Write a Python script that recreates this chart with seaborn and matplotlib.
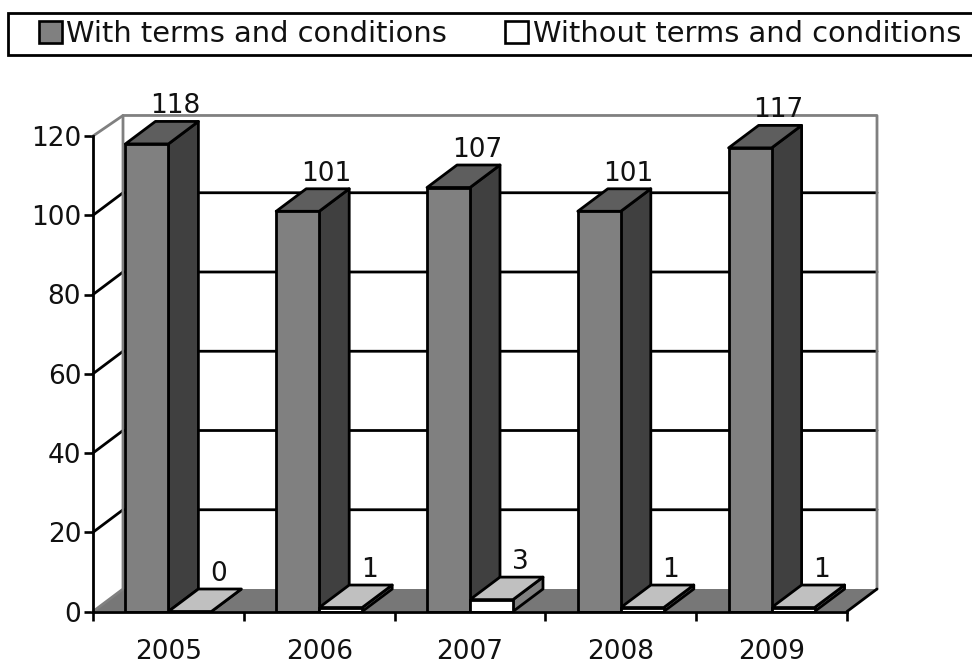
import matplotlib
matplotlib.use("Agg")
import matplotlib.pyplot as plt
from matplotlib.patches import Polygon, Rectangle
import pandas as pd
import seaborn as sns

years = ["2005", "2006", "2007", "2008", "2009"]
with_terms = [118, 101, 107, 101, 117]
without_terms = [0, 1, 3, 1, 1]
series_names = ["With terms and conditions", "Without terms and conditions"]
y_ticks = [0, 20, 40, 60, 80, 100, 120]

W, H = 972, 664
sns.set_theme(style="white")
plt.rcParams["font.family"] = ["DejaVu Sans"]

df = pd.DataFrame({
    "year": years * 2,
    "value": with_terms + without_terms,
    "series": [series_names[0]] * 5 + [series_names[1]] * 5,
})

fig = plt.figure(figsize=(W / 100, H / 100), dpi=100, facecolor="white")
L, R, T, B = 93, 847, 136, 611.5
ax = fig.add_axes([L / W, 1 - B / H, (R - L) / W, (B - T) / H])
ax.patch.set_visible(False)

LW = 2.0
front = "#808080"
palette = {series_names[0]: front, series_names[1]: "white"}
sns.barplot(data=df, x="year", y="value", hue="series", palette=palette,
            width=0.57, gap=0, edgecolor="black", linewidth=LW, saturation=1,
            legend=False, ax=ax, zorder=5)
ax.set_xlim(-0.5, 4.5)
ax.set_ylim(0, 120)

# pixel-size depth of the pseudo-3D extrusion, in data units
DX = 30 / ((R - L) / 5)
DY = 22.5 / ((B - T) / 120)
x0, x1 = ax.get_xlim()
wall_top = 119.5 + DY

# floor, walls and gridlines
ax.add_patch(Polygon([(x0, 0), (x1, 0), (x1 + DX, DY), (x0 + DX, DY)], closed=True,
                     fc="#777777", ec="none", clip_on=False, zorder=1))
ax.plot([x1, x1 + DX], [0, DY], color="black", lw=LW, clip_on=False, zorder=2)
for t in y_ticks[1:-1]:
    ax.plot([x0, x0 + DX, x1 + DX], [t, t + DY, t + DY], color="black", lw=LW,
            clip_on=False, zorder=1.5)
ax.plot([x0, x0 + DX, x0 + DX], [0, DY, wall_top], color="#808080", lw=LW, clip_on=False, zorder=1.6)
ax.plot([x0, x0 + DX, x1 + DX, x1 + DX], [120, wall_top, wall_top, DY], color="#808080", lw=LW,
        clip_on=False, zorder=1.6)

# extrude every bar seaborn drew
bars = [b for b in ax.patches if isinstance(b, Rectangle) and 0 < b.get_width() < 1]
for b in sorted(bars, key=lambda b: b.get_x()):
    x, w, h = b.get_x(), b.get_width(), b.get_height()
    dark = b.get_facecolor()[0] < 0.9
    top_c, side_c = ("#5e5e5e", "#404040") if dark else ("#c0c0c0", "#808080")
    ax.add_patch(Polygon([(x + w, 0), (x + w + DX, DY), (x + w + DX, h + DY), (x + w, h)], closed=True,
                         fc=side_c, ec="black", lw=LW, clip_on=False, zorder=4, joinstyle="round"))
    ax.add_patch(Polygon([(x, h), (x + DX, h + DY), (x + w + DX, h + DY), (x + w, h)], closed=True,
                         fc=top_c, ec="black", lw=LW, clip_on=False, zorder=4, joinstyle="round"))
    ax.annotate(f"{int(round(h))}", (x + w / 2 + DX * 0.95, h + DY), xytext=(0, 1.5), textcoords="offset points",
                ha="center", va="bottom", fontsize=19, color="#111111", zorder=6,
                annotation_clip=False)

# axes
for s in ["top", "right"]:
    ax.spines[s].set_visible(False)
for s in ["left", "bottom"]:
    ax.spines[s].set_color("black")
    ax.spines[s].set_linewidth(2.0)
    ax.spines[s].set_zorder(7)
ax.set_xlabel("")
ax.set_ylabel("")
ax.set_yticks(y_ticks)
ax.set_yticklabels([str(t) for t in y_ticks], fontsize=19, color="#111111")
ax.set_xticks([i - 0.5 for i in range(len(years) + 1)])
ax.set_xticklabels([""] * (len(years) + 1))
ax.set_xticks(range(len(years)), labels=years, minor=True, fontsize=19, color="#111111")
ax.tick_params(axis="both", which="major", length=6.5, width=1.9, color="black", left=True, bottom=True, pad=2)
ax.tick_params(axis="x", which="minor", length=0, pad=19.5, bottom=True)

# legend
fig.add_artist(Rectangle((8 / W, 1 - 55 / H), 1, 42 / H, transform=fig.transFigure,
                         fc="white", ec="black", lw=2.0))
handles = [Rectangle((0, 0), 1, 1, fc=front, ec="black", lw=1.9),
           Rectangle((0, 0), 1, 1, fc="white", ec="black", lw=1.9)]
fig.legend(handles, series_names, ncol=2, frameon=False, fontsize=20.8, loc="center left",
           bbox_to_anchor=(39 / W, 1 - 34 / H), handlelength=0.8, handleheight=0.8,
           handletextpad=0.15, columnspacing=2.0, borderpad=0, borderaxespad=0, labelcolor="#111111")

fig.savefig("out.png", dpi=100)
